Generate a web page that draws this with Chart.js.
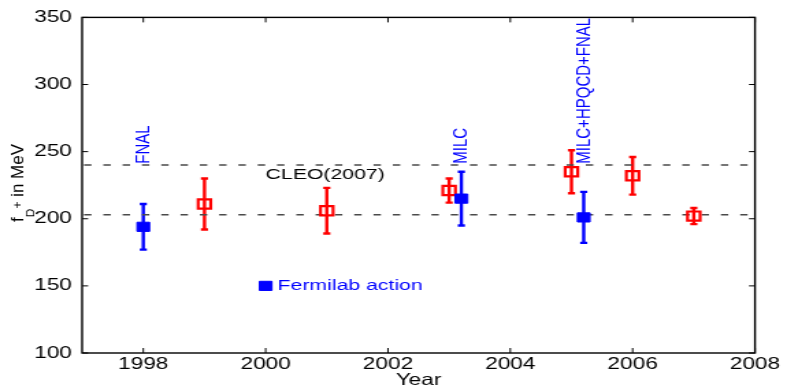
<!DOCTYPE html>
<html>
<head>
<meta charset="utf-8">
<script src="https://cdn.jsdelivr.net/npm/chart.js@4.4.1/dist/chart.umd.min.js"></script>
<style>
html, body { margin: 0; padding: 0; background: #fff; overflow: hidden; }
#marco { width: 575px; height: 387px; transform: scaleX(1.368696); transform-origin: 0 0; }
</style>
</head>
<body>
<div id="marco"><canvas id="grafico" width="575" height="387"></canvas></div>
<script>
// datos
const xTicks = [1998, 2000, 2002, 2004, 2006, 2008];
const yTicks = [100, 150, 200, 250, 300, 350];

const fermiX = [1998, 2003.2, 2005.2];
const fermiY = [194, 215, 201];
const fermiLo = [177, 195, 182];
const fermiHi = [211, 235, 220];

const otrosX = [1999, 2001, 2003, 2005, 2006, 2007];
const otrosY = [211, 206, 221, 235, 232, 202];
const otrosLo = [192, 189, 212, 219, 218, 196];
const otrosHi = [230, 223, 230, 251, 246, 208];

const cleoLineas = [240, 203];
const etiquetas = ['FNAL', 'MILC', 'MILC+HPQCD+FNAL'];
const cleoTexto = 'CLEO(2007)';
const leyendaTexto = 'Fermilab action';

const canvasGrafico = document.getElementById('grafico');
const S = 787 / 575; // el original esta estirado en horizontal
const azul = '#0000ff';
const rojo = '#ff0000';
const fuente = '"Liberation Sans", Arial, Helvetica, sans-serif';

const marcoPlugin = {
    id: 'marco',
    beforeDatasetsDraw(chart) {
        const { ctx, scales: { x, y } } = chart;
        ctx.save();
        ctx.lineWidth = 2.4;
        const barras = (xs, lo, hi, color) => {
            ctx.strokeStyle = color;
            xs.forEach((v, i) => {
                const px = x.getPixelForValue(v);
                const y1 = y.getPixelForValue(lo[i]);
                const y2 = y.getPixelForValue(hi[i]);
                ctx.beginPath();
                ctx.moveTo(px, y1); ctx.lineTo(px, y2);
                ctx.moveTo(px - 2.6, y1); ctx.lineTo(px + 2.6, y1);
                ctx.moveTo(px - 2.6, y2); ctx.lineTo(px + 2.6, y2);
                ctx.stroke();
            });
        };
        barras(otrosX, otrosLo, otrosHi, rojo);
        barras(fermiX, fermiLo, fermiHi, azul);
        ctx.restore();
    },
    afterDraw(chart) {
        const { ctx, chartArea: a, scales: { x, y } } = chart;
        ctx.save();

        // etiquetas verticales
        ctx.fillStyle = azul;
        ctx.font = '15px ' + fuente;
        ctx.textAlign = 'left';
        ctx.textBaseline = 'middle';
        etiquetas.forEach((t, i) => {
            ctx.save();
            ctx.translate(x.getPixelForValue(fermiX[i]), y.getPixelForValue(241));
            ctx.rotate(-Math.PI / 2);
            ctx.fillText(t, 0, 0);
            ctx.restore();
        });

        ctx.font = '15.5px ' + fuente;
        ctx.fillStyle = '#000';
        ctx.fillText(cleoTexto, x.getPixelForValue(2000), y.getPixelForValue(233));
        ctx.fillStyle = azul;
        ctx.fillText(leyendaTexto, x.getPixelForValue(2000) + 8.8, y.getPixelForValue(150));

        // marco y ticks hacia dentro
        ctx.strokeStyle = '#000';
        ctx.lineWidth = 1.4;
        ctx.strokeRect(a.left, a.top, a.right - a.left, a.bottom - a.top);
        ctx.lineWidth = 1;
        ctx.beginPath();
        xTicks.forEach(v => {
            const px = x.getPixelForValue(v);
            ctx.moveTo(px, a.bottom); ctx.lineTo(px, a.bottom - 5);
            ctx.moveTo(px, a.top); ctx.lineTo(px, a.top + 5);
        });
        yTicks.forEach(v => {
            const py = y.getPixelForValue(v);
            ctx.moveTo(a.left, py); ctx.lineTo(a.left + 4.4, py);
            ctx.moveTo(a.right, py); ctx.lineTo(a.right - 4.4, py);
        });
        ctx.stroke();

        // titulo del eje y con sub y superindice, sin estirar
        ctx.scale(1 / S, 1);
        ctx.translate(22.7, 222);
        ctx.rotate(-Math.PI / 2);
        ctx.fillStyle = '#000';
        ctx.textAlign = 'left';
        ctx.textBaseline = 'alphabetic';
        let pos = 0;
        ctx.font = '17px ' + fuente;
        ctx.fillText('f', pos, 0);
        pos += ctx.measureText('f').width;
        ctx.font = '12px ' + fuente;
        ctx.fillText('D', pos, 11);
        pos += ctx.measureText('D').width;
        ctx.fillText('+', pos, -1);
        pos += ctx.measureText('+').width;
        ctx.font = '17px ' + fuente;
        ctx.fillText(' in MeV', pos, 0);
        ctx.restore();
    }
};

const puntos = (xs, ys) => xs.map((v, i) => ({ x: v, y: ys[i] }));

const chart = new Chart(canvasGrafico, {
    type: 'scatter',
    data: {
        datasets: [
            {
                label: leyendaTexto,
                data: puntos(fermiX, fermiY),
                pointStyle: 'rect',
                pointRadius: 6.5,
                backgroundColor: azul,
                borderColor: azul,
                borderWidth: 1
            },
            {
                label: 'leyenda',
                data: [{ x: 2000, y: 150 }],
                pointStyle: 'rect',
                pointRadius: 6.5,
                backgroundColor: azul,
                borderColor: azul,
                borderWidth: 1
            },
            {
                label: 'otros',
                data: puntos(otrosX, otrosY),
                pointStyle: 'rect',
                pointRadius: 6.5,
                backgroundColor: 'rgba(0,0,0,0)',
                borderColor: rojo,
                borderWidth: 2.2
            },
            ...cleoLineas.map(v => ({
                type: 'line',
                label: 'CLEO ' + v,
                data: [{ x: 1997, y: v }, { x: 2008, y: v }],
                borderColor: '#4a4a4a',
                borderWidth: 1.6,
                borderDash: [5.4, 8.7],
                borderDashOffset: -1.4,
                pointRadius: 0
            }))
        ]
    },
    options: {
        responsive: false,
        animation: false,
        events: [],
        layout: { padding: { left: 0, right: 23.4, top: 15, bottom: 0 } },
        plugins: { legend: { display: false }, tooltip: { enabled: false } },
        scales: {
            x: {
                type: 'linear',
                min: 1997,
                max: 2008,
                afterBuildTicks: s => { s.ticks = xTicks.map(v => ({ value: v })); },
                afterFit: s => { s.height = 34; },
                grid: { display: false, drawTicks: false },
                border: { display: false },
                ticks: { autoSkip: false, maxRotation: 0, padding: 2, color: '#000', font: { family: fuente, size: 16.5 }, callback: v => String(v) },
                title: { display: true, text: 'Year', color: '#000', font: { family: fuente, size: 16.5 }, padding: { top: 0, bottom: -3 } }
            },
            y: {
                min: 100,
                max: 350,
                afterBuildTicks: s => { s.ticks = yTicks.map(v => ({ value: v })); },
                afterFit: s => { s.width = 60; },
                grid: { display: false, drawTicks: false },
                border: { display: false },
                ticks: { autoSkip: false, padding: 7.5, color: '#000', font: { family: fuente, size: 16.5 }, callback: v => String(v) }
            }
        }
    },
    plugins: [marcoPlugin]
});
</script>
</body>
</html>
